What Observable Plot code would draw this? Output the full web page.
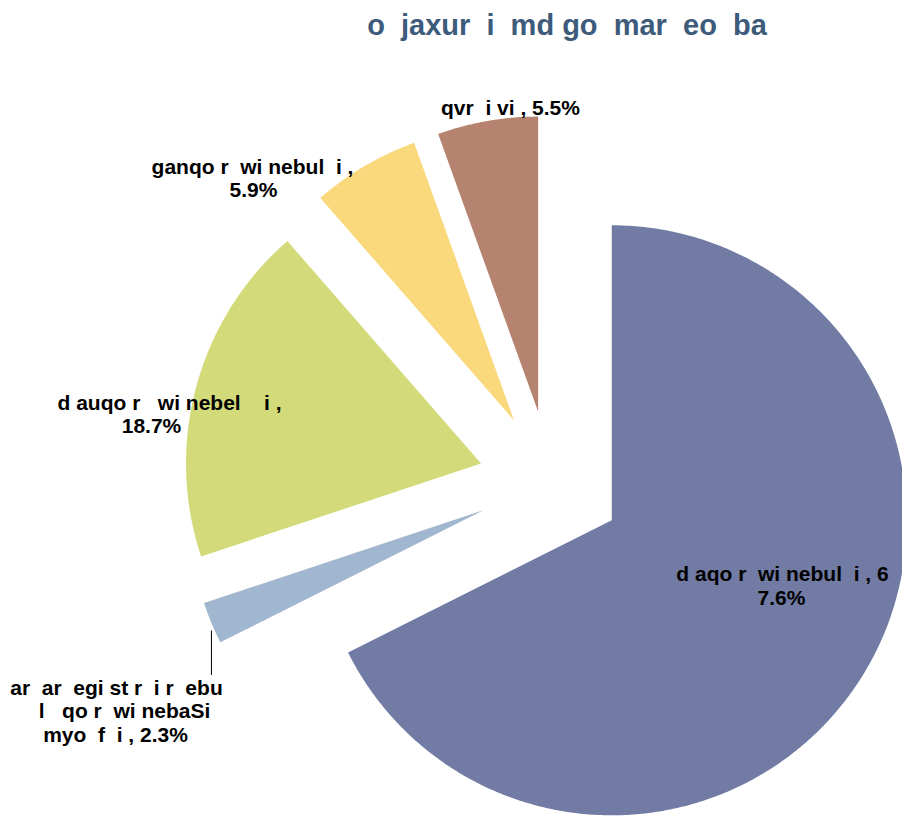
<!DOCTYPE html>
<html>
<head>
<meta charset="utf-8">
<script src="https://cdn.jsdelivr.net/npm/d3@7"></script>
<script src="https://cdn.jsdelivr.net/npm/@observablehq/plot@0.6"></script>
<style>
  html, body { margin: 0; padding: 0; background: #fff; }
  #title { height: 50px; line-height: 50px; text-align: center; font-family: "Liberation Sans", Arial, sans-serif;
           font-weight: bold; font-size: 29px; color: #3d5b7a; padding-left: 232px; white-space: pre; }
  #chart svg text { white-space: pre; }
</style>
</head>
<body>
<div id="title">o  jaxur  i  md go  mar  eo  ba</div>
<div id="chart"></div>
<script>
// ---- data ----
const categories = ["daqorwinebuli", "araregistrirebul qorwinebaSi myofi", "dauqorwinebeli", "ganqorwinebuli", "qvrivi"];
const shares = [67.6, 2.3, 18.7, 5.9, 5.5];
const labelLines = [
  ["d aqo r  wi nebul  i , 6", "7.6%"],
  ["ar  ar  egi st r  i r  ebu", "l   qo r  wi nebaSi", "myo  f  i , 2.3%"],
  ["d auqo r   wi nebel    i ,", "18.7%"],
  ["ganqo r  wi nebul  i ,", "5.9%"],
  ["qvr  i vi , 5.5%"]
];
const colors = ["#717ba3", "#a1b7cf", "#d3da7a", "#f9d97c", "#b5836f"];

// ---- layout (not data) ----
const W = 902, H = 767;
const cx = 550, cy = 432, R = 295, explode = 72;
const labelPos = [
  [[782, 524], [781, 548]],
  [[116, 638], [124, 661], [115, 685]],
  [[169, 353], [151, 376]],
  [[252, 117], [253, 140]],
  [[510, 58]]
];

const arcs = d3.pie().sort(null).value(d => d).startAngle(0).endAngle(2 * Math.PI)(shares);
const pts = [];
const centers = [];
arcs.forEach((a, i) => {
  const mid = (a.startAngle + a.endAngle) / 2;
  const ox = cx + explode * Math.sin(mid), oy = cy - explode * Math.cos(mid);
  centers.push({ox, oy, mid});
  pts.push({key: categories[i], x: ox, y: oy});
  const n = Math.max(4, Math.ceil((a.endAngle - a.startAngle) / 0.01));
  for (let k = 0; k <= n; k++) {
    const t = a.startAngle + (a.endAngle - a.startAngle) * k / n;
    pts.push({key: categories[i], x: ox + R * Math.sin(t), y: oy - R * Math.cos(t)});
  }
});

const labels = [];
labelLines.forEach((lines, i) => lines.forEach((s, j) => labels.push({text: s, x: labelPos[i][j][0], y: labelPos[i][j][1]})));

const c1 = centers[1];
const leader = [{x: c1.ox + R * Math.sin(c1.mid), y1: c1.oy - R * Math.cos(c1.mid) + 8, y2: 625}];

const chart = Plot.plot({
  width: W, height: H,
  margin: 0,
  x: {domain: [0, W], range: [0, W], axis: null},
  y: {domain: [0, H], range: [0, H], axis: null},
  color: {domain: categories, range: colors},
  marks: [
    Plot.line(pts, {x: "x", y: "y", z: "key", fill: "key", stroke: null, curve: "linear-closed"}),
    Plot.ruleX(leader, {x: "x", y1: "y1", y2: "y2", stroke: "#000", strokeWidth: 1}),
    Plot.text(labels, {x: "x", y: "y", text: "text", fill: "#000", fontSize: 21, fontWeight: "bold",
      fontFamily: "Liberation Sans, Arial, sans-serif", textAnchor: "middle"})
  ]
});
chart.style.fontFamily = "Liberation Sans, Arial, sans-serif";
document.getElementById("chart").appendChild(chart);
</script>
</body>
</html>
